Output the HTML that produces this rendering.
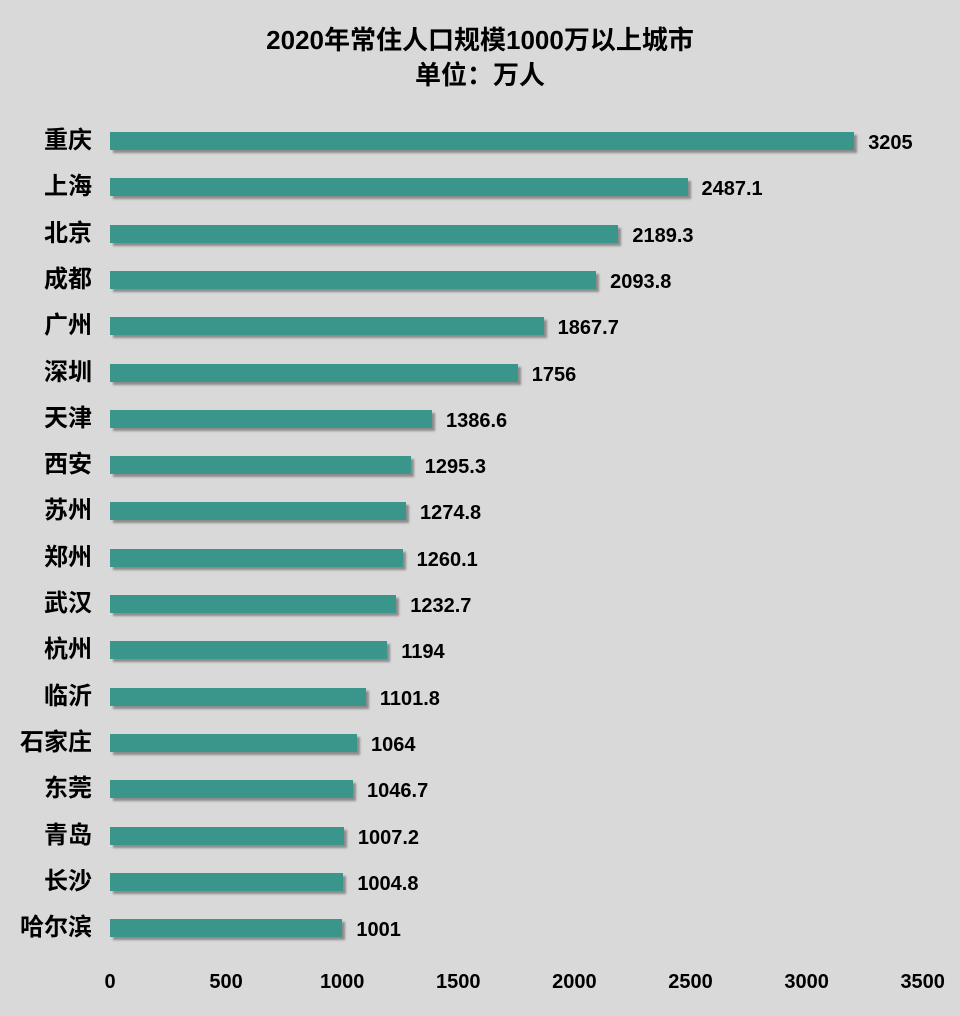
<!DOCTYPE html>
<html><head><meta charset="utf-8"><style>
body{margin:0;width:960px;height:1016px;background:#d9d9d9;position:relative;overflow:hidden;font-family:"Liberation Sans","Noto Sans CJK SC",sans-serif;font-weight:bold;color:#000}
.t{position:absolute;left:0;width:960px;text-align:center;font-size:26px}
.c{position:absolute;right:868px;font-size:24px;line-height:30px;white-space:nowrap}
.b{position:absolute;left:110px;height:18px;background:#3a968a;box-shadow:3px 3px 2px #8c8c8c}
.v{position:absolute;font-size:20px;line-height:24px}
.x{position:absolute;top:971px;font-size:20px;width:80px;text-align:center}
</style></head><body>
<div class="t" style="top:20px">2020年常住人口规模1000万以上城市</div>
<div class="t" style="top:55px">单位：万人</div>
<div id="g"></div>
<script>
var d=[["重庆",3205],["上海",2487.1],["北京",2189.3],["成都",2093.8],["广州",1867.7],["深圳",1756],["天津",1386.6],["西安",1295.3],["苏州",1274.8],["郑州",1260.1],["武汉",1232.7],["杭州",1194],["临沂",1101.8],["石家庄",1064],["东莞",1046.7],["青岛",1007.2],["长沙",1004.8],["哈尔滨",1001]];
var s=0.2322,h="";
d.forEach(function(r,i){var y=141+i*46.3,w=r[1]*s;
h+='<div class="c" style="top:'+(y-15)+'px">'+r[0]+'</div>';
h+='<div class="b" style="top:'+(y-9)+'px;width:'+w+'px"></div>';
h+='<div class="v" style="top:'+(y-10)+'px;left:'+(110+w+14)+'px">'+r[1]+'</div>';});
for(var k=0;k<=7;k++){h+='<div class="x" style="left:'+(110+k*500*s-40)+'px">'+(k*500)+'</div>';}
document.getElementById("g").innerHTML=h;
</script>
</body></html>
